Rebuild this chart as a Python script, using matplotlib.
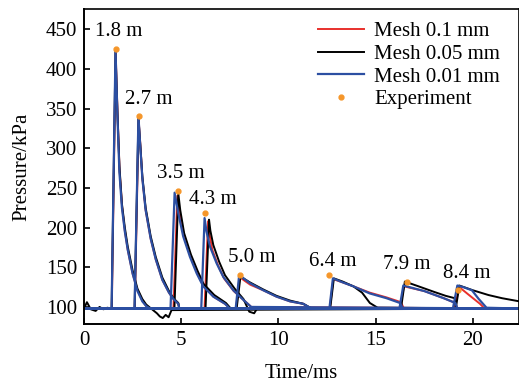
import matplotlib
matplotlib.use("Agg")
import matplotlib.pyplot as plt

plt.rcParams['font.family'] = ['Liberation Serif', 'DejaVu Serif']
plt.rcParams['font.size'] = 15

# experiment peaks (time ms, pressure kPa) and sensor distances
exp_t = [1.62, 2.81, 4.82, 6.2, 8.02, 12.61, 16.6, 19.21]
exp_p = [425, 341, 246, 219, 140, 140, 131, 121]
dist_labels = ['1.8 m', '2.7 m', '3.5 m', '4.3 m', '5.0 m', '6.4 m', '7.9 m', '8.4 m']
label_t = [1.76, 3.35, 4.98, 6.62, 8.64, 12.78, 16.59, 19.66]
label_p = [447, 362, 268, 236, 162, 157, 153, 142]

# Mesh 0.01 mm (one trace per gauge)
fine_t = [
    [0, 1.42, 1.62, 1.72, 1.82, 1.95, 2.1, 2.25, 2.5, 2.75, 3.0, 3.2, 3.4, 22.4],
    [0, 2.6, 2.8, 2.9, 3.0, 3.17, 3.43, 3.69, 4.03, 4.37, 4.6, 4.85, 4.9, 22.4],
    [0, 4.45, 4.66, 4.85, 5.1, 5.45, 5.8, 6.13, 6.65, 7.25, 7.5, 22.4],
    [0, 6.03, 6.2, 6.3, 6.48, 6.82, 7.16, 7.68, 8.19, 8.6, 22.4],
    [0, 7.8, 7.98, 8.15, 8.53, 9.22, 9.9, 10.6, 11.27, 11.7, 22.4],
    [0, 12.62, 12.8, 13.3, 13.85, 14.7, 15.56, 16.25, 16.4, 22.4],
    [0, 16.22, 16.42, 17.5, 18.5, 19.1, 19.2, 22.4],
    [0, 18.97, 19.2, 19.5, 19.95, 20.3, 20.7, 22.4],
]
fine_p = [
    [98, 98, 424, 340, 270, 225, 195, 172, 142, 120, 107, 101, 98, 98],
    [98, 98, 340, 300, 262, 222, 186, 160, 134, 118, 110, 104, 98, 98],
    [98, 98, 244, 218, 189, 163, 142, 126, 113, 104, 98, 98],
    [98, 98, 212, 195, 176, 155, 138, 121, 109, 100, 98],
    [98, 98, 140, 137, 130, 121, 113, 107, 104, 98, 98],
    [98, 98, 136, 131, 126, 117, 111, 105, 98, 98],
    [98, 98, 127, 120, 111, 105, 98, 98],
    [98, 98, 127, 125, 121, 110, 99, 98],
]

# Mesh 0.1 mm
coarse_t = [
    [0, 1.43, 1.63, 1.73, 1.83, 1.96, 2.1, 2.25, 2.5, 2.75, 3.0, 3.2, 3.4, 22.4],
    [0, 2.61, 2.81, 2.91, 3.0, 3.17, 3.43, 3.69, 4.03, 4.37, 4.6, 4.85, 4.9, 22.4],
    [0, 4.6, 4.8, 4.92, 5.15, 5.5, 5.85, 6.15, 6.65, 7.25, 7.5, 22.4],
    [0, 6.2, 6.38, 6.45, 6.6, 6.9, 7.2, 7.7, 8.2, 8.6, 22.4],
    [0, 7.82, 8.0, 8.2, 8.55, 9.22, 9.9, 10.6, 11.27, 11.7, 22.4],
    [0, 12.64, 12.82, 13.3, 13.85, 14.7, 15.56, 16.3, 16.45, 22.4],
    [0, 16.25, 16.45, 17.5, 18.5, 19.1, 19.2, 22.4],
    [0, 19.05, 19.3, 19.8, 20.36, 20.6, 22.4],
]
coarse_p = [
    [98, 98, 420, 340, 272, 226, 196, 172, 142, 121, 108, 101, 98, 98],
    [98, 98, 336, 300, 262, 222, 186, 160, 134, 118, 110, 104, 98, 98],
    [98, 98, 240, 218, 189, 163, 142, 127, 113, 104, 98, 98],
    [98, 98, 208, 192, 172, 152, 136, 120, 109, 100, 98],
    [98, 98, 138, 134, 128, 121, 113, 107, 104, 98, 98],
    [98, 98, 135, 131, 126, 118, 112, 106, 98, 98],
    [98, 98, 126, 120, 111, 105, 98, 98],
    [98, 98, 125, 115, 104, 98, 98],
]

# Mesh 0.05 mm
mid_t = [
    [0, 0.15, 0.35, 0.6, 0.8, 1.0, 1.2, 1.42, 1.62, 1.72, 1.82, 1.95, 2.1, 2.25, 2.5,
     2.75, 3.0, 3.2, 3.4, 3.6, 3.75, 3.9, 4.05, 4.2, 4.35, 4.5, 22.4],
    [0, 2.6, 2.8, 2.9, 3.0, 3.17, 3.43, 3.69, 4.03, 4.37, 4.6, 4.85, 4.9, 22.4],
    [0, 4.65, 4.85, 4.95, 5.15, 5.5, 5.85, 6.15, 6.7, 7.3, 7.55, 22.4],
    [0, 6.25, 6.43, 6.5, 6.65, 6.95, 7.25, 7.75, 8.2, 8.5, 8.75, 8.9, 22.4],
    [0, 7.85, 8.05, 8.2, 8.53, 9.22, 9.9, 10.6, 11.27, 11.7, 22.4],
    [0, 12.66, 12.85, 13.3, 13.85, 14.3, 14.7, 15.1, 22.4],
    [0, 16.3, 16.5, 17.2, 18.0, 18.6, 19.07, 19.12, 22.4],
    [0, 19.12, 19.3, 20.0, 20.8, 21.5, 22.4],
]
mid_p = [
    [98, 106, 97, 95, 100, 97, 99, 98, 422, 345, 278, 230, 200, 176, 146,
     123, 110, 103, 99, 95, 92, 88, 86, 90, 87, 96, 98],
    [98, 98, 338, 302, 265, 225, 189, 163, 137, 120, 111, 105, 98, 98],
    [98, 98, 243, 222, 193, 166, 145, 129, 115, 105, 98, 98],
    [98, 98, 210, 196, 178, 157, 140, 123, 110, 94, 92, 98, 98],
    [98, 98, 139, 136, 131, 122, 114, 108, 104, 98, 98],
    [98, 98, 136, 132, 126, 118, 105, 99, 98],
    [98, 98, 132, 126, 119, 114, 111, 98, 98],
    [98, 98, 127, 121, 115, 111, 107],
]

fig = plt.figure(figsize=(5.19, 3.83), dpi=100)
ax = fig.add_axes([84 / 519, 59 / 383, 435 / 519, 315 / 383])

red = '#e8302c'
blue = '#2c4fa2'
orange = '#f5962a'

for i, (t, p) in enumerate(zip(coarse_t, coarse_p)):
    ax.plot(t, p, color=red, lw=1.4, label='Mesh 0.1 mm' if i == 0 else None)
for i, (t, p) in enumerate(zip(mid_t, mid_p)):
    ax.plot(t, p, color='black', lw=1.4, label='Mesh 0.05 mm' if i == 0 else None)
for i, (t, p) in enumerate(zip(fine_t, fine_p)):
    ax.plot(t, p, color=blue, lw=1.6, label='Mesh 0.01 mm' if i == 0 else None)
ax.plot(exp_t, exp_p, 'o', color=orange, ms=3.5, ls='none', label='Experiment', zorder=5)

for lt, lp, s in zip(label_t, label_p, dist_labels):
    ax.text(lt, lp, s, ha='center', va='center')

ax.set_xlim(0, 22.37)
ax.set_ylim(78.5, 475.5)
ax.set_xticks([0, 5, 10, 15, 20])
ax.set_yticks([100, 150, 200, 250, 300, 350, 400, 450])
ax.tick_params(direction='in', length=4, width=1.2, pad=5)
for side in ['top', 'right']:
    ax.spines[side].set_linewidth(1.2)
for side in ['left', 'bottom']:
    ax.spines[side].set_linewidth(1.4)
ax.set_xlabel('Time/ms', labelpad=10)
ax.set_ylabel('Pressure/kPa', labelpad=10)

ax.legend(loc='upper right', frameon=False, handlelength=2.2,
          labelspacing=0.15, handletextpad=0.5, borderaxespad=0.2,
          bbox_to_anchor=(0.985, 1.0))

fig.savefig('out.png', dpi=100)
